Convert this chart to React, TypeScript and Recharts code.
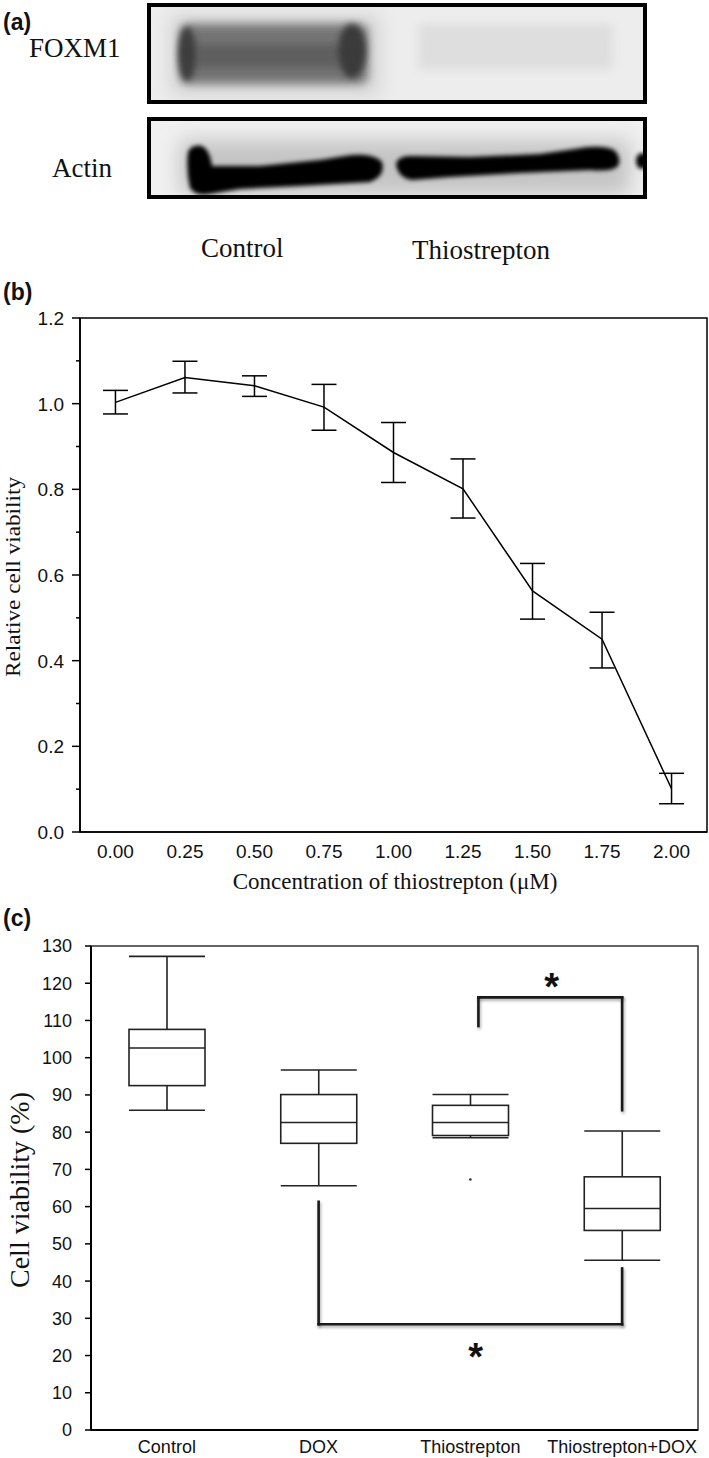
import React from 'react';
import {
  LineChart,
  Line,
  XAxis,
  YAxis,
  ErrorBar,
  ReferenceArea,
  ComposedChart,
  Bar,
  ReferenceLine,
  ReferenceDot,
} from 'recharts';

const SANS = '"Liberation Sans", Arial, Helvetica, sans-serif';
const SERIF = '"Liberation Serif", "Times New Roman", Times, serif';

// ---- panel (b): dose response ----
const doses = [0, 0.25, 0.5, 0.75, 1.0, 1.25, 1.5, 1.75, 2.0];
const viability = [1.003, 1.061, 1.042, 0.992, 0.886, 0.801, 0.563, 0.45, 0.101];
const viabilityLow = [0.976, 1.025, 1.017, 0.938, 0.816, 0.733, 0.497, 0.383, 0.066];
const viabilityHigh = [1.031, 1.099, 1.065, 1.045, 0.956, 0.871, 0.627, 0.513, 0.137];
const doseYTicks = [0, 0.1, 0.2, 0.3, 0.4, 0.5, 0.6, 0.7, 0.8, 0.9, 1.0, 1.1, 1.2];

// ---- panel (c): box plots ----
const groups = ['Control', 'DOX', 'Thiostrepton', 'Thiostrepton+DOX'];
const whiskerLow = [85.9, 65.6, 78.5, 45.6];
const quart1 = [92.5, 77.0, 79.1, 53.6];
const medians = [102.6, 82.6, 82.6, 59.5];
const quart3 = [107.6, 90.1, 87.2, 68.0];
const whiskerHigh = [127.2, 96.7, 90.1, 80.3];
const boxYTicks = [0, 10, 20, 30, 40, 50, 60, 70, 80, 90, 100, 110, 120, 130];
const outliers = [{ x: 2, y: 67.3 }];
// [left x, right x, bar level, left end, right end]
const brackets = [
  [2.053, 3, 116.2, 108.5, 85.9],
  [1, 3, 28.4, 61.3, 43.4],
];
const starPos = [
  { x: 2.535, y: 121.2 },
  { x: 2.035, y: 21.7 },
];

const doseData = doses.map((d, i) => ({
  x: d,
  y: viability[i],
  err: [viability[i] - viabilityLow[i], viabilityHigh[i] - viability[i]],
}));

const boxData = groups.map((g, i) => ({
  name: g,
  pos: i,
  min: whiskerLow[i],
  q1: quart1[i],
  med: medians[i],
  q3: quart3[i],
  max: whiskerHigh[i],
}));

const BYTick = ({ x, y, payload }: any) => {
  const v = payload.value;
  const major = Math.round(v * 10) % 2 === 0;
  return (
    <g>
      <line x1={x - (major ? 8 : 4)} x2={x} y1={y} y2={y} stroke="#000" strokeWidth={1.5} />
      {major && (
        <text x={x - 16} y={y} dy="0.36em" textAnchor="end" fontFamily={SANS} fontSize={19} fill="#111">
          {v.toFixed(1)}
        </text>
      )}
    </g>
  );
};

const BXTick = ({ x, y, payload }: any) => (
  <text x={x} y={y + 19} dy="0.36em" textAnchor="middle" fontFamily={SANS} fontSize={19} fill="#111">
    {Number(payload.value).toFixed(2)}
  </text>
);

const CYTick = ({ x, y, payload }: any) => (
  <g>
    <line x1={x - 6} x2={x} y1={y} y2={y} stroke="#000" strokeWidth={1.5} />
    <text x={x - 19} y={y} dy="0.36em" textAnchor="end" fontFamily={SANS} fontSize={18} fill="#111">
      {payload.value}
    </text>
  </g>
);

const CXTick = ({ x, y, payload }: any) => (
  <text x={x} y={y + 17} dy="0.36em" textAnchor="middle" fontFamily={SANS} fontSize={18} fill="#111">
    {payload.value}
  </text>
);

// box drawn inside the bar's [min, max] span
const BoxShape = (props: any) => {
  const { x, y, width, height, payload } = props;
  const top = Math.min(y, y + height);
  const bot = Math.max(y, y + height);
  const k = (bot - top) / (payload.max - payload.min);
  const py = (v: number) => bot - (v - payload.min) * k;
  const cx = x + width / 2;
  return (
    <g stroke="#222" strokeWidth={1.6} fill="none">
      <line x1={cx} x2={cx} y1={py(payload.max)} y2={py(payload.q3)} />
      <line x1={cx} x2={cx} y1={py(payload.q1)} y2={py(payload.min)} />
      <line x1={x} x2={x + width} y1={py(payload.max)} y2={py(payload.max)} />
      <line x1={x} x2={x + width} y1={py(payload.min)} y2={py(payload.min)} />
      <rect x={x} y={py(payload.q3)} width={width} height={py(payload.q1) - py(payload.q3)} fill="#fff" />
      <line x1={x} x2={x + width} y1={py(payload.med)} y2={py(payload.med)} />
    </g>
  );
};

const BracketLine = (p: any) => (
  <line
    x1={p.x1}
    y1={p.y1}
    x2={p.x2}
    y2={p.y2}
    stroke="#1a1a1a"
    strokeWidth={2.6}
    strokeLinecap="square"
    style={{ filter: 'drop-shadow(1.5px 2px 1.5px rgba(0,0,0,0.35))' }}
  />
);

const Star = (p: any) => (
  <text x={p.cx} y={p.cy + 21} textAnchor="middle" fontFamily={SANS} fontWeight="bold" fontSize={38} fill="#111">
    *
  </text>
);

function Blot() {
  return (
    <svg width={709} height={270} style={{ position: 'absolute', left: 0, top: 0 }}>
      <defs>
        <filter id="b5" x="-30%" y="-60%" width="160%" height="220%">
          <feGaussianBlur stdDeviation="5" />
        </filter>
        <filter id="b3" x="-30%" y="-60%" width="160%" height="220%">
          <feGaussianBlur stdDeviation="3" />
        </filter>
        <filter id="b2" x="-30%" y="-60%" width="160%" height="220%">
          <feGaussianBlur stdDeviation="2" />
        </filter>
        <filter id="b10" x="-30%" y="-100%" width="160%" height="300%">
          <feGaussianBlur stdDeviation="10" />
        </filter>
        <clipPath id="clipTop">
          <rect x={149} y={5} width={496} height={97} />
        </clipPath>
        <clipPath id="clipBot">
          <rect x={149} y={119} width={496} height={78} />
        </clipPath>
      </defs>

      <rect x={149} y={5} width={496} height={97} fill="#ededed" />
      <g clipPath="url(#clipTop)">
        <rect x={170} y={15} width={210} height={80} fill="#d4d4d4" filter="url(#b10)" />
        <rect x={180} y={24} width={188} height={60} rx={8} fill="#747474" filter="url(#b5)" />
        <rect x={192} y={44} width={150} height={24} fill="#5e5e5e" filter="url(#b5)" />
        <ellipse cx={187} cy={54} rx={9} ry={27} fill="#3e3e3e" filter="url(#b3)" />
        <ellipse cx={352} cy={51} rx={14} ry={27} fill="#3a3a3a" filter="url(#b3)" />
        <rect x={418} y={24} width={195} height={46} fill="#dedede" filter="url(#b5)" />
      </g>
      <rect x={149} y={5} width={496} height={97} fill="none" stroke="#000" strokeWidth={4} />

      <rect x={149} y={119} width={496} height={78} fill="#f0f0f0" />
      <g clipPath="url(#clipBot)">
        <rect x={180} y={140} width={450} height={55} fill="#c4c4c4" filter="url(#b10)" />
        <path
          d="M188 152 Q192 144 202 146 Q210 150 212 166 L260 166 L320 160 L345 156 Q372 152 382 162 Q386 176 370 182 L300 186 L240 189 L210 194 Q196 197 190 188 Q186 170 188 152 Z"
          fill="#000"
          filter="url(#b2)"
        />
        <path
          d="M396 164 Q398 156 410 156 L470 157 L540 154 L575 149 Q600 144 614 150 Q622 158 618 166 Q612 172 590 170 L520 173 L450 177 L412 180 Q398 178 396 164 Z"
          fill="#000"
          filter="url(#b2)"
        />
        <ellipse cx={642} cy={161} rx={6} ry={8} fill="#000" filter="url(#b2)" />
      </g>
      <rect x={149} y={119} width={496} height={78} fill="none" stroke="#000" strokeWidth={4} />

      <text x={29} y={57} fontFamily={SERIF} fontSize={27} fill="#111">FOXM1</text>
      <text x={52} y={177} fontFamily={SERIF} fontSize={27} fill="#111">Actin</text>
      <text x={201} y={257} fontFamily={SERIF} fontSize={27} fill="#111">Control</text>
      <text x={412} y={259} fontFamily={SERIF} fontSize={27} fill="#111">Thiostrepton</text>
    </svg>
  );
}

const panelLabel = (text: string, top: number) => (
  <div
    style={{
      position: 'absolute',
      left: 3,
      top,
      fontFamily: SANS,
      fontWeight: 'bold',
      fontSize: 23,
      lineHeight: '24px',
      color: '#111',
    }}
  >
    {text}
  </div>
);

export default function App() {
  return (
    <div
      style={{
        position: 'absolute',
        left: 0,
        top: 0,
        width: 709,
        height: 1458,
        background: '#fff',
        overflow: 'hidden',
      }}
    >
      <Blot />
      {panelLabel('(a)', 10)}
      {panelLabel('(b)', 280)}
      {panelLabel('(c)', 906)}

      {/* panel (b) */}
      <div style={{ position: 'absolute', left: 0, top: 290 }}>
        <LineChart width={709} height={620} data={doseData} margin={{ top: 28, right: 2, left: 0, bottom: 0 }}>
          <ReferenceArea
            x1={-0.1275}
            x2={2.1275}
            y1={0}
            y2={1.2}
            fill="none"
            stroke="#000"
            strokeWidth={1.5}
            ifOverflow="visible"
          />
          <XAxis
            type="number"
            dataKey="x"
            domain={[-0.1275, 2.1275]}
            ticks={doses}
            interval={0}
            allowDataOverflow
            tick={<BXTick />}
            tickLine={false}
            tickSize={0}
            tickMargin={0}
            axisLine={{ stroke: '#000', strokeWidth: 1.7 }}
            height={78}
          />
          <YAxis
            type="number"
            domain={[0, 1.2]}
            ticks={doseYTicks}
            interval={0}
            allowDataOverflow
            tick={<BYTick />}
            tickLine={false}
            tickSize={0}
            tickMargin={0}
            axisLine={{ stroke: '#000', strokeWidth: 1.7 }}
            width={80}
          />
          <Line
            type="linear"
            dataKey="y"
            stroke="#000"
            strokeWidth={1.5}
            dot={false}
            activeDot={false}
            isAnimationActive={false}
          >
            <ErrorBar dataKey="err" direction="y" width={12.5} stroke="#000" strokeWidth={1.5} isAnimationActive={false} />
          </Line>
        </LineChart>
      </div>
      <svg width={709} height={1458} style={{ position: 'absolute', left: 0, top: 0, pointerEvents: 'none' }}>
        <text
          transform="translate(19.5, 577) rotate(-90)"
          textAnchor="middle"
          fontFamily={SERIF}
          fontSize={21}
          textLength={200}
          lengthAdjust="spacingAndGlyphs"
          fill="#111"
        >
          Relative cell viability
        </text>
        <text x={395} y={889} textAnchor="middle" fontFamily={SERIF} fontSize={23} fill="#111">
          Concentration of thiostrepton (μM)
        </text>
        <text transform="translate(29, 1190) rotate(-90)" textAnchor="middle" fontFamily={SERIF} fontSize={28} fill="#111">
          Cell viability (%)
        </text>
      </svg>

      {/* panel (c) */}
      <div style={{ position: 'absolute', left: 0, top: 926 }}>
        <ComposedChart width={709} height={532} data={boxData} margin={{ top: 20, right: 11, left: 0, bottom: 0 }}>
          <XAxis
            xAxisId="cat"
            dataKey="name"
            type="category"
            interval={0}
            tick={<CXTick />}
            tickLine={false}
            tickSize={0}
            tickMargin={0}
            axisLine={{ stroke: '#000', strokeWidth: 2 }}
            height={28}
          />
          <XAxis xAxisId="num" dataKey="pos" type="number" domain={[-0.5, 3.5]} allowDataOverflow hide />
          <YAxis
            type="number"
            domain={[0, 130]}
            ticks={boxYTicks}
            interval={0}
            allowDataOverflow
            tick={<CYTick />}
            tickLine={false}
            tickSize={0}
            tickMargin={0}
            axisLine={{ stroke: '#000', strokeWidth: 2 }}
            width={91}
          />
          <ReferenceArea
            xAxisId="num"
            x1={-0.5}
            x2={3.5}
            y1={0}
            y2={130}
            fill="none"
            stroke="#333"
            strokeWidth={1.5}
            ifOverflow="visible"
          />
          <Bar
            xAxisId="cat"
            dataKey={(d: any) => [d.min, d.max]}
            barSize={76}
            shape={(p: any) => <BoxShape {...p} />}
            isAnimationActive={false}
          />
          {brackets.map((b, i) => (
            <ReferenceLine
              key={`h${i}`}
              xAxisId="num"
              segment={[{ x: b[0], y: b[2] }, { x: b[1], y: b[2] }]}
              shape={BracketLine}
              ifOverflow="visible"
            />
          ))}
          {brackets.map((b, i) => (
            <ReferenceLine
              key={`l${i}`}
              xAxisId="num"
              segment={[{ x: b[0], y: b[3] }, { x: b[0], y: b[2] }]}
              shape={BracketLine}
              ifOverflow="visible"
            />
          ))}
          {brackets.map((b, i) => (
            <ReferenceLine
              key={`r${i}`}
              xAxisId="num"
              segment={[{ x: b[1], y: b[4] }, { x: b[1], y: b[2] }]}
              shape={BracketLine}
              ifOverflow="visible"
            />
          ))}
          {outliers.map((o, i) => (
            <ReferenceDot key={`o${i}`} xAxisId="num" x={o.x} y={o.y} r={1.3} fill="#333" stroke="none" />
          ))}
          {starPos.map((s, i) => (
            <ReferenceDot key={`s${i}`} xAxisId="num" x={s.x} y={s.y} r={0} shape={Star} />
          ))}
        </ComposedChart>
      </div>
    </div>
  );
}
